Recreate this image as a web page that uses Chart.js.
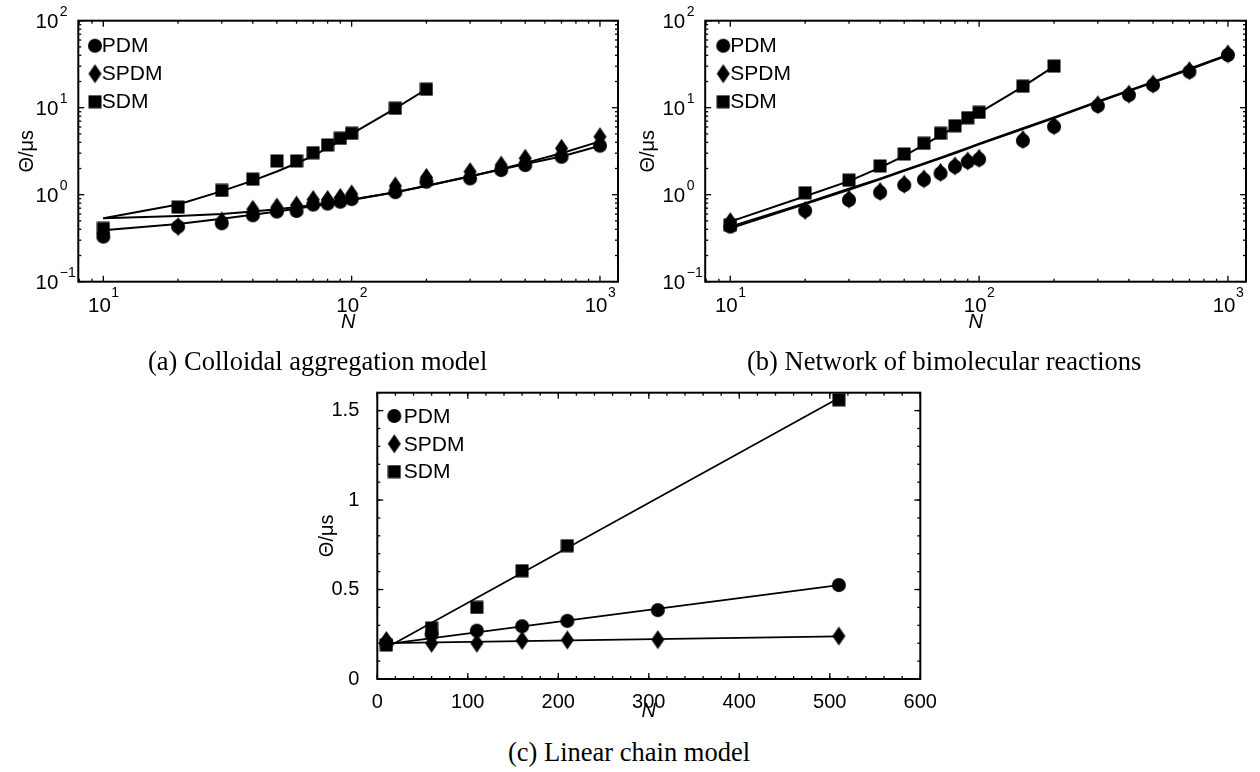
<!DOCTYPE html>
<html>
<head>
<meta charset="utf-8">
<script src="https://cdn.jsdelivr.net/npm/chart.js@4.4.0/dist/chart.umd.min.js"></script>
<style>
html, body { margin:0; padding:0; background:#fff; }
body { width:1260px; height:772px; position:relative; overflow:hidden; }
canvas { position:absolute; }
.cap { position:absolute; font-family:'Liberation Serif','DejaVu Serif',serif; font-size:26.5px; line-height:26.5px; color:#000; white-space:nowrap; }
</style>
</head>
<body>
<canvas id="chartA" width="630" height="340" style="left:0;top:0"></canvas>
<canvas id="chartB" width="640" height="340" style="left:620px;top:0"></canvas>
<canvas id="chartC" width="650" height="360" style="left:300px;top:370px"></canvas>
<div class="cap" style="left:148px;top:348px">(a) Colloidal aggregation model</div>
<div class="cap" style="left:747px;top:348px">(b) Network of bimolecular reactions</div>
<div class="cap" style="left:508px;top:739px">(c) Linear chain model</div>
<script>
'use strict';

// ---- data ----
const seriesNames = ['PDM', 'SPDM', 'SDM'];

const nAB    = [10, 20, 30, 40, 50, 60, 70, 80, 90, 100, 150, 200, 300, 400, 500, 700, 1000];
const nSdmAB = [10, 20, 30, 40, 50, 60, 70, 80, 90, 100, 150, 200];

// (a) colloidal aggregation
const pdmA     = [0.33, 0.43, 0.47, 0.58, 0.64, 0.65, 0.77, 0.79, 0.83, 0.89, 1.07, 1.41, 1.54, 1.92, 2.19, 2.73, 3.66];
const spdmA    = [0.36, 0.43, 0.50, 0.68, 0.72, 0.76, 0.88, 0.88, 0.93, 1.02, 1.26, 1.58, 1.84, 2.19, 2.62, 3.41, 4.64];
const sdmA     = [0.41, 0.72, 1.12, 1.51, 2.44, 2.44, 3.04, 3.73, 4.45, 5.08, 9.85, 16.3];
const pdmFitA  = [0.39, 0.46, 0.53, 0.59, 0.64, 0.69, 0.74, 0.78, 0.83, 0.87, 1.07, 1.27, 1.63, 1.95, 2.25, 2.75, 3.65];
const spdmFitA = [0.535, 0.57, 0.60, 0.64, 0.68, 0.72, 0.76, 0.80, 0.84, 0.88, 1.07, 1.26, 1.62, 1.97, 2.32, 3.0, 4.1];
const sdmFitA  = [0.535, 0.77, 1.10, 1.45, 1.85, 2.30, 2.80, 3.45, 4.15, 5.0, 9.8, 16.3];

// (b) bimolecular reactions
const pdmB     = [0.43, 0.655, 0.87, 1.06, 1.29, 1.49, 1.76, 2.10, 2.39, 2.55, 4.18, 6.05, 10.5, 14.0, 18.2, 25.9, 40.4];
const spdmB    = [0.49, 0.66, 0.89, 1.09, 1.32, 1.52, 1.80, 2.14, 2.44, 2.62, 4.30, 6.20, 10.8, 14.3, 18.7, 26.6, 41.5];
const sdmB     = [0.45, 1.05, 1.47, 2.14, 2.94, 3.90, 5.08, 6.20, 7.67, 8.85, 17.7, 30.1];
const pdmFitB  = [0.41, 0.78, 1.14, 1.50, 1.88, 2.25, 2.62, 3.00, 3.38, 3.80, 5.70, 7.60, 11.6, 15.5, 19.4, 27.5, 40.0];
const spdmFitB = [0.43, 0.80, 1.17, 1.53, 1.91, 2.29, 2.67, 3.05, 3.44, 3.86, 5.80, 7.75, 11.8, 15.8, 19.8, 28.0, 40.8];
const sdmFitB  = [0.49, 0.96, 1.43, 2.05, 2.80, 3.75, 4.80, 6.00, 7.30, 8.70, 17.5, 29.8];

// (c) linear chain
const nC       = [10, 60, 110, 160, 210, 310, 510];
const pdmC     = [0.20, 0.25, 0.27, 0.295, 0.325, 0.385, 0.525];
const spdmC    = [0.215, 0.20, 0.20, 0.215, 0.218, 0.22, 0.24];
const sdmC     = [0.19, 0.285, 0.40, 0.605, 0.745, null, 1.56];
const nFitC    = [10, 510];
const pdmFitC  = [0.195, 0.525];
const spdmFitC = [0.20, 0.238];
const sdmFitC  = [0.175, 1.57];

// ticks
const logTicksX = [10, 100, 1000];
const logExpX   = ['1', '2', '3'];
const logTicksY = [0.1, 1, 10, 100];
const logExpY   = ['\u22121', '0', '1', '2'];
const linTicksX  = [0, 100, 200, 300, 400, 500, 600];
const linLabelsX = ['0', '100', '200', '300', '400', '500', '600'];
const linTicksY  = [0, 0.5, 1, 1.5];
const linLabelsY = ['0', '0.5', '1', '1.5'];

// ---- helpers ----
const FONT = "'Liberation Sans', Arial, Helvetica, sans-serif";

function markerImg(kind) {
    const c = document.createElement('canvas');
    const g = c.getContext('2d');
    g.fillStyle = '#000';
    if (kind === 'circle') { c.width = 16; c.height = 16; g.beginPath(); g.arc(8, 8, 7, 0, Math.PI * 2); g.fill(); }
    else if (kind === 'diamond') { c.width = 15; c.height = 21; g.beginPath(); g.moveTo(7.5, 1); g.lineTo(14, 10.5); g.lineTo(7.5, 20); g.lineTo(1, 10.5); g.closePath(); g.fill(); }
    else { c.width = 14; c.height = 14; g.fillRect(0.5, 0.5, 13, 13); }
    return c;
}
const IMG = [markerImg('circle'), markerImg('diamond'), markerImg('square')];

const pts = (xs, ys) => xs.map((x, i) => ({ x, y: ys[i] })).filter(p => p.y != null);
const markSet = (i, xs, ys) => ({ label: seriesNames[i], data: pts(xs, ys), pointStyle: IMG[i], pointRadius: 7, showLine: false, order: 0 });
const fitSet = (xs, ys, w) => ({ label: '', data: pts(xs, ys), showLine: true, borderColor: '#000', borderWidth: w, pointRadius: 0, tension: 0, order: 1 });

function logMinors(min, max) {
    const out = [];
    for (let k = Math.floor(Math.log10(min)); k <= Math.ceil(Math.log10(max)); k++)
        for (let m = 2; m <= 9; m++) { const v = m * Math.pow(10, k); if (v > min && v < max) out.push(v); }
    return out;
}
function linMinors(min, max, step) {
    const out = [];
    for (let v = min; v <= max + 1e-9; v += step) out.push(+v.toFixed(6));
    return out;
}

// box + inward ticks on all four sides (MATLAB style)
const framePlugin = {
    id: 'frame',
    afterDraw(chart, args, o) {
        const { ctx, chartArea: a, scales: { x, y } } = chart;
        ctx.save();
        ctx.strokeStyle = '#000';
        ctx.lineWidth = 1.3;
        const seg = (x1, y1, x2, y2) => { ctx.beginPath(); ctx.moveTo(x1, y1); ctx.lineTo(x2, y2); ctx.stroke(); };
        const tx = (v, len) => { const p = x.getPixelForValue(v); seg(p, a.bottom, p, a.bottom - len); seg(p, a.top, p, a.top + len); };
        const ty = (v, len) => { const p = y.getPixelForValue(v); seg(a.left, p, a.left + len, p); seg(a.right, p, a.right - len, p); };
        o.xMinor.forEach(v => tx(v, 3));
        o.yMinor.forEach(v => ty(v, 3));
        o.xMajor.forEach(v => tx(v, 6));
        o.yMajor.forEach(v => ty(v, 6));
        ctx.lineWidth = 2;
        ctx.strokeRect(a.left, a.top, a.right - a.left, a.bottom - a.top);

        // power-of-ten tick labels with raised exponents
        if (o.logLabels) {
            ctx.fillStyle = '#000';
            const base = '20.5px ' + FONT, sup = '14px ' + FONT;
            ctx.textBaseline = 'alphabetic';
            o.xMajor.forEach((v, i) => {
                const p = x.getPixelForValue(v);
                ctx.font = base; const wb = ctx.measureText('10').width;
                ctx.font = sup; const we = ctx.measureText(logExpX[i]).width;
                const x0 = p - (wb + we) / 2;
                ctx.textAlign = 'left';
                ctx.font = base; ctx.fillText('10', x0, a.bottom + 30);
                ctx.font = sup; ctx.fillText(logExpX[i], x0 + wb + 0.5, a.bottom + 15.5);
            });
            o.yMajor.forEach((v, i) => {
                const p = y.getPixelForValue(v);
                ctx.textAlign = 'right'; ctx.font = base; ctx.fillText('10', a.left - 20, p + 7.6);
                ctx.textAlign = 'left'; ctx.font = sup; ctx.fillText(logExpY[i], a.left - 18.5, p - 5);
            });
        }
        ctx.restore();
    }
};

// legend drawn inside the axes, top-left
const keyPlugin = {
    id: 'key',
    afterDraw(chart, args, o) {
        const { ctx, chartArea: a } = chart;
        ctx.save();
        ctx.fillStyle = '#000';
        ctx.font = '21px ' + FONT;
        ctx.textBaseline = 'middle';
        ctx.textAlign = 'left';
        seriesNames.forEach((name, i) => {
            const cy = a.top + o.dy + i * o.step;
            const img = IMG[i];
            ctx.drawImage(img, a.left + o.mx - img.width / 2, cy - img.height / 2);
            ctx.fillText(name, a.left + o.tx, cy + 1);
        });
        ctx.restore();
    }
};

function axisTitle(text, italic, pad) {
    return { display: true, text, color: '#000', font: { family: FONT, size: 20, style: italic ? 'italic' : 'normal' }, padding: pad };
}

function makePanel(id, p) {
    const isLog = p.xType === 'logarithmic';
    return new Chart(document.getElementById(id), {
        type: 'scatter',
        data: { datasets: p.datasets },
        options: {
            responsive: false, animation: false, events: [],
            layout: { padding: p.pad },
            plugins: { legend: { display: false }, tooltip: { enabled: false }, frame: p.frame, key: p.key },
            scales: {
                x: {
                    type: p.xType, min: p.xMin, max: p.xMax, position: 'bottom',
                    afterBuildTicks: s => { s.ticks = p.xTicks.map(v => ({ value: v })); },
                    afterFit: s => { s.height = p.xH; },
                    ticks: { display: !isLog, callback: (v, i) => p.xLabels[i], color: '#000', font: { family: FONT, size: 20, lineHeight: 1 }, padding: p.xPad, autoSkip: false, maxRotation: 0 },
                    grid: { display: false }, border: { display: false },
                    title: axisTitle('N', true, { top: 0, bottom: p.nPad })
                },
                y: {
                    type: p.yType, min: p.yMin, max: p.yMax, position: 'left',
                    afterBuildTicks: s => { s.ticks = p.yTicks.map(v => ({ value: v })); },
                    afterFit: s => { s.width = p.yW; },
                    ticks: { display: !isLog, callback: (v, i) => p.yLabels[i], color: '#000', font: { family: FONT, size: 20, lineHeight: 1 }, padding: 10, autoSkip: false },
                    grid: { display: false }, border: { display: false },
                    title: axisTitle('\u0398/\u03BCs', false, { top: p.tPad, bottom: 0 })
                }
            }
        },
        plugins: [framePlugin, keyPlugin]
    });
}

const X_MIN = 7.93, X_MAX = 1182;
const logFrame = { xMajor: logTicksX, xMinor: logMinors(X_MIN, X_MAX), yMajor: logTicksY, yMinor: logMinors(0.1, 100), logLabels: true };

makePanel('chartA', {
    datasets: [markSet(0, nAB, pdmA), markSet(1, nAB, spdmA), markSet(2, nSdmAB, sdmA),
               fitSet(nAB, pdmFitA, 2), fitSet(nAB, spdmFitA, 2), fitSet(nSdmAB, sdmFitA, 2)],
    pad: { left: 0, top: 20.7, right: 12, bottom: 0 },
    xType: 'logarithmic', xMin: X_MIN, xMax: X_MAX, xTicks: logTicksX, xLabels: [], xH: 58.3, xPad: 12, nPad: 6,
    yType: 'logarithmic', yMin: 0.1, yMax: 100, yTicks: logTicksY, yLabels: [], yW: 78.3, tPad: 15.5,
    frame: logFrame, key: { mx: 16.7, tx: 23.5, dy: 25, step: 28 }
});

makePanel('chartB', {
    datasets: [markSet(0, nAB, pdmB), markSet(1, nAB, spdmB), markSet(2, nSdmAB, sdmB),
               fitSet(nAB, pdmFitB, 2), fitSet(nAB, spdmFitB, 2), fitSet(nSdmAB, sdmFitB, 2)],
    pad: { left: 0, top: 20.7, right: 14, bottom: 0 },
    xType: 'logarithmic', xMin: X_MIN, xMax: X_MAX, xTicks: logTicksX, xLabels: [], xH: 58.3, xPad: 12, nPad: 6,
    yType: 'logarithmic', yMin: 0.1, yMax: 100, yTicks: logTicksY, yLabels: [], yW: 85.2, tPad: 16.5,
    frame: logFrame, key: { mx: 18, tx: 25, dy: 25, step: 28 }
});

makePanel('chartC', {
    datasets: [markSet(0, nC, pdmC), markSet(1, nC, spdmC), markSet(2, nC, sdmC),
               fitSet(nFitC, pdmFitC, 1.7), fitSet(nFitC, spdmFitC, 1.7), fitSet(nFitC, sdmFitC, 1.7)],
    pad: { left: 0, top: 22.7, right: 29.7, bottom: 0 },
    xType: 'linear', xMin: 0, xMax: 600, xTicks: linTicksX, xLabels: linLabelsX, xH: 51, xPad: 5.7, nPad: 7,
    yType: 'linear', yMin: 0, yMax: 1.6, yTicks: linTicksY, yLabels: linLabelsY, yW: 77.3, tPad: 15,
    frame: { xMajor: linTicksX, xMinor: linMinors(0, 600, 20), yMajor: linTicksY, yMinor: linMinors(0, 1.6, 0.1), logLabels: false },
    key: { mx: 17, tx: 26.5, dy: 23.3, step: 27.8 }
});
</script>
</body>
</html>
